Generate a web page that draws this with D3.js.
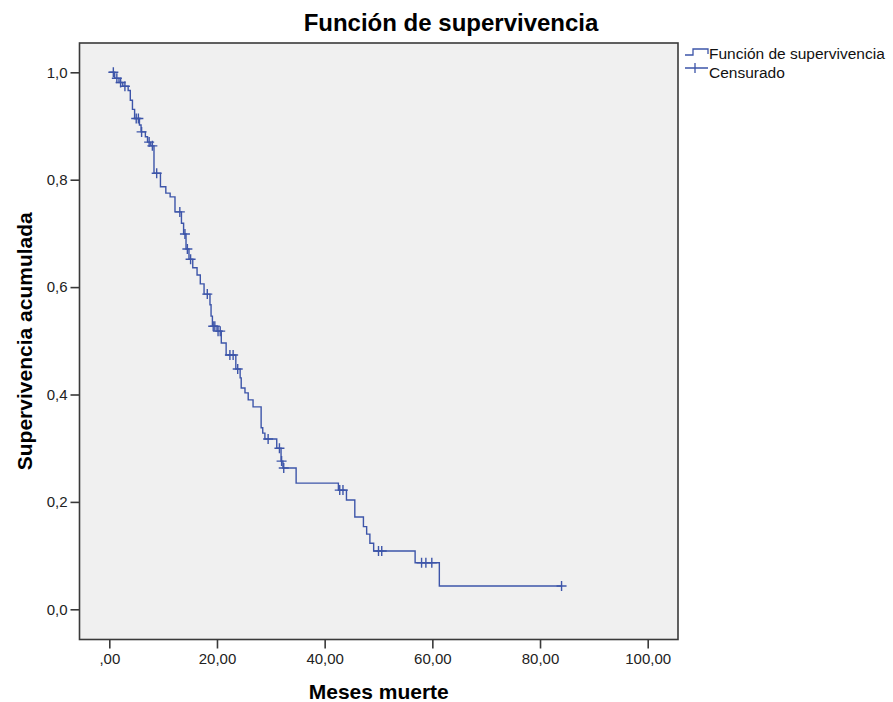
<!DOCTYPE html>
<html>
<head>
<meta charset="utf-8">
<script src="https://cdn.jsdelivr.net/npm/d3@7"></script>
<style>
  body { margin: 0; background: #fff; }
  text { font-family: "Liberation Sans", Arial, sans-serif; }
</style>
</head>
<body>
<svg id="chart" width="893" height="702"></svg>
<script>
// Kaplan-Meier steps: time of each drop and survival after it
const eventTimes = [1.0, 1.8, 2.5, 3.5, 3.9, 4.3, 4.7, 5.6, 5.9, 6.7, 7.1, 7.7, 8.3,
  9.5, 10.5, 11.3, 12.2, 13.4, 13.8, 14.25, 14.8, 15.5, 16.3, 16.9, 17.6, 18.7, 18.9,
  19.15, 20.0, 20.8, 21.7, 23.5, 24.3, 24.5, 25.2, 25.8, 26.7, 28.2, 28.5, 28.9, 31.1,
  31.9, 32.25, 34.7, 42.55, 44.05, 45.6, 47.2, 47.8, 48.4, 49.1, 56.8, 61.3];
const survival = [0.989, 0.981, 0.974, 0.966, 0.948, 0.931, 0.914, 0.902, 0.889, 0.880, 0.870, 0.863, 0.812,
  0.787, 0.775, 0.768, 0.740, 0.719, 0.699, 0.671, 0.652, 0.636, 0.6225, 0.606, 0.587, 0.567, 0.546,
  0.527, 0.518, 0.496, 0.4735, 0.4475, 0.431, 0.412, 0.403, 0.390, 0.377, 0.338, 0.328, 0.317, 0.300,
  0.276, 0.263, 0.235, 0.222, 0.2035, 0.172, 0.154, 0.140, 0.123, 0.1086, 0.0868, 0.0434];
const censorTimes = [0.75, 1.4, 2.1, 2.9, 5.0, 5.4, 6.0, 7.4, 8.0, 8.8, 13.1, 14.05, 14.5, 15.1,
  18.2, 19.3, 19.6, 20.2, 20.6, 22.4, 23.0, 23.85, 29.5, 31.6, 32.0, 32.4, 42.8, 43.4,
  50.0, 50.6, 58.0, 58.8, 59.9, 84.0];
const lastTime = 84.0;
const xTicks = [0, 20, 40, 60, 80, 100];
const yTicks = [0, 0.2, 0.4, 0.6, 0.8, 1.0];
const legendLabels = ["Función de supervivencia", "Censurado"];

const blue = "#3d55a9";
const svg = d3.select("#chart");

const frame = { left: 79.5, top: 43, right: 678, bottom: 639.5 };
const x = d3.scaleLinear().domain([0, 100]).range([109.3, 647.7]);
const y = d3.scaleLinear().domain([0, 1]).range([609.3, 72.3]);

// survival level at time t (right-continuous step)
function survAt(t) {
  let s = 1;
  eventTimes.forEach((et, i) => { if (et <= t) s = survival[i]; });
  return s;
}

// plot background + frame
svg.append("rect")
  .attr("x", frame.left).attr("y", frame.top)
  .attr("width", frame.right - frame.left).attr("height", frame.bottom - frame.top)
  .attr("fill", "#f0f0f0").attr("stroke", "#3a3a3a").attr("stroke-width", 1.6);

// axes
const fmtX = d => d === 0 ? ",00" : d3.format(".2f")(d).replace(".", ",");
const fmtY = d => d3.format(".1f")(d).replace(".", ",");

const xAxis = svg.append("g")
  .attr("transform", `translate(0,${frame.bottom})`)
  .call(d3.axisBottom(x).tickValues(xTicks).tickFormat(fmtX).tickSize(9).tickPadding(5));
const yAxis = svg.append("g")
  .attr("transform", `translate(${frame.left},0)`)
  .call(d3.axisLeft(y).tickValues(yTicks).tickFormat(fmtY).tickSize(9).tickPadding(3));
[xAxis, yAxis].forEach(g => {
  g.select(".domain").remove();
  g.selectAll(".tick line").attr("stroke", "#3a3a3a").attr("stroke-width", 1.6);
  g.selectAll(".tick text").attr("fill", "#222").style("font-size", "15px");
});

// survival step line
const pts = [[0, 1]].concat(eventTimes.map((t, i) => [t, survival[i]])).concat([[lastTime, survAt(lastTime)]]);
const line = d3.line().x(d => x(d[0])).y(d => y(d[1])).curve(d3.curveStepAfter);
svg.append("path")
  .datum(pts)
  .attr("d", line)
  .attr("fill", "none").attr("stroke", blue).attr("stroke-width", 1.4);

// censor marks
const c = 5;
svg.append("g").selectAll("path")
  .data(censorTimes)
  .join("path")
  .attr("d", t => {
    const cx = x(t), cy = y(survAt(t));
    return `M${cx - c},${cy}H${cx + c}M${cx},${cy - c}V${cy + c}`;
  })
  .attr("stroke", blue).attr("stroke-width", 1.4).attr("fill", "none");

// titles
svg.append("text")
  .attr("x", 451).attr("y", 31)
  .attr("text-anchor", "middle")
  .style("font-size", "24px").style("font-weight", "bold")
  .text("Función de supervivencia");
svg.append("text")
  .attr("x", (frame.left + frame.right) / 2).attr("y", 699)
  .attr("text-anchor", "middle")
  .style("font-size", "21px").style("font-weight", "bold")
  .text("Meses muerte");
svg.append("text")
  .attr("transform", `translate(32,${(frame.top + frame.bottom) / 2}) rotate(-90)`)
  .attr("text-anchor", "middle")
  .style("font-size", "21px").style("font-weight", "bold")
  .text("Supervivencia acumulada");

// legend
const lg = svg.append("g");
lg.append("path")
  .attr("d", "M685,55H693V49H708V54")
  .attr("fill", "none").attr("stroke", blue).attr("stroke-width", 1.3);
lg.append("path")
  .attr("d", "M685,68H708M695,63V73")
  .attr("fill", "none").attr("stroke", blue).attr("stroke-width", 1.3);
lg.selectAll("text")
  .data(legendLabels)
  .join("text")
  .attr("x", 709)
  .attr("y", (d, i) => 59 + i * 19)
  .style("font-size", "15.5px").attr("fill", "#111")
  .text(d => d);
</script>
</body>
</html>
